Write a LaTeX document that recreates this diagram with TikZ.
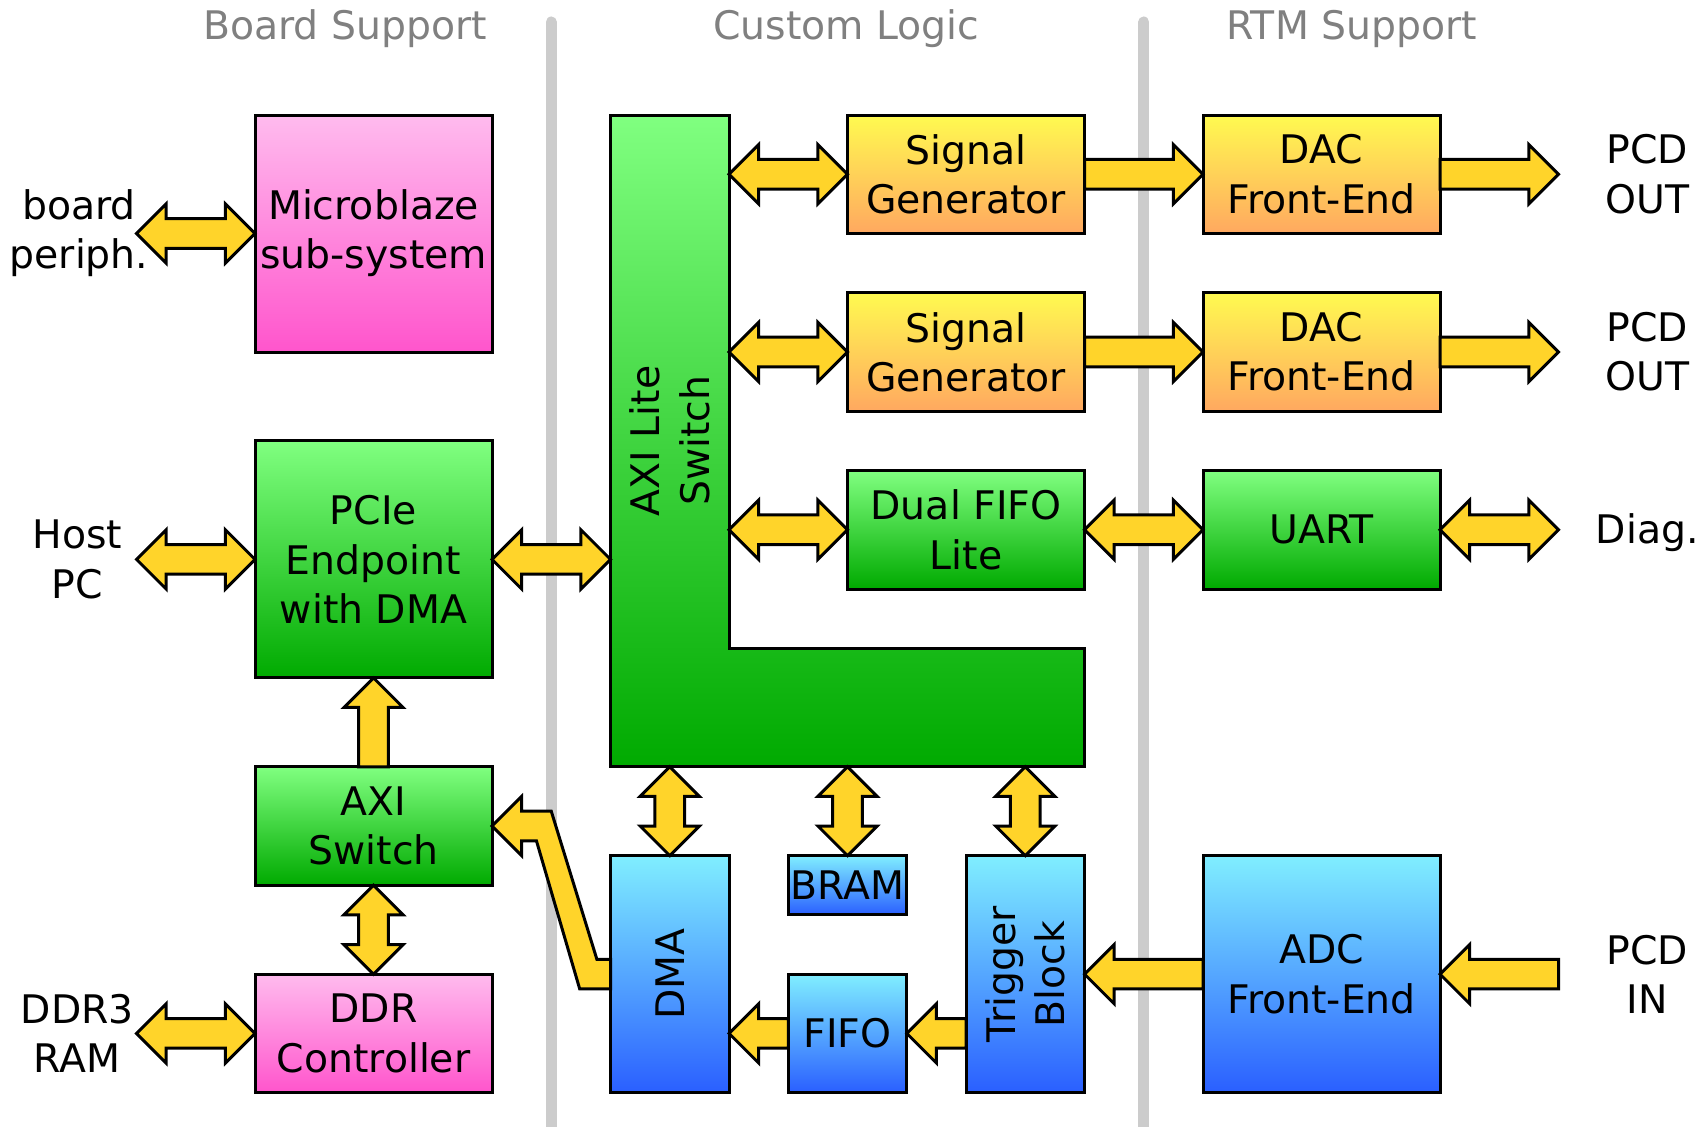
\documentclass[tikz,border=0pt]{standalone}
\usepackage{fontspec}
\setmainfont{DejaVu Sans}
\usetikzlibrary{calc}
\definecolor{arrowyellow}{HTML}{FFD42A}
\definecolor{pinktop}{HTML}{FFBBEE}
\definecolor{pinkbot}{HTML}{FF55CC}
\definecolor{greentop}{HTML}{80FF80}
\definecolor{greenbot}{HTML}{00AA00}
\definecolor{oratop}{HTML}{FFFA50}
\definecolor{orabot}{HTML}{FFA860}
\definecolor{bluetop}{HTML}{80EEFF}
\definecolor{bluebot}{HTML}{2A5FFF}
\definecolor{sepgray}{HTML}{CCCCCC}
\definecolor{titlegray}{HTML}{808080}

\newcommand\HL{8.42pt}
\newcommand\HW{8.42pt}
\newcommand\SW{4.21pt}

\newcommand\FatDouble[2]{%
  \draw[fatarrow] let \p1=(#1), \p2=(#2),
     \n1={atan2(\y2-\y1,\x2-\x1)}, \n2={veclen(\x2-\x1,\y2-\y1)} in
     [shift={(\x1,\y1)}, rotate=\n1]
     (0pt,0pt) -- (\HL,\HW) -- (\HL,\SW) -- ({\n2*1pt-\HL},\SW) -- ({\n2*1pt-\HL},\HW)
     -- ({\n2*1pt},0pt) -- ({\n2*1pt-\HL},-\HW) -- ({\n2*1pt-\HL},-\SW)
     -- (\HL,-\SW) -- (\HL,-\HW) -- cycle;}
\newcommand\FatSingle[2]{%
  \draw[fatarrow] let \p1=(#1), \p2=(#2),
     \n1={atan2(\y2-\y1,\x2-\x1)}, \n2={veclen(\x2-\x1,\y2-\y1)} in
     [shift={(\x1,\y1)}, rotate=\n1]
     (0pt,\SW) -- ({\n2*1pt-\HL},\SW) -- ({\n2*1pt-\HL},\HW)
     -- ({\n2*1pt},0pt) -- ({\n2*1pt-\HL},-\HW) -- ({\n2*1pt-\HL},-\SW)
     -- (0pt,-\SW) -- cycle;}

\tikzset{
  every node/.style={font=\fontsize{11.2}{14.0}\selectfont},
  fatarrow/.style={fill=arrowyellow, draw=black, line width=0.85pt, line join=miter},
  blk/.style={draw=black, line width=0.85pt, inner sep=0pt, outer sep=0pt, align=center},
  pinkbox/.style={blk, top color=pinktop, bottom color=pinkbot},
  greenbox/.style={blk, top color=greentop, bottom color=greenbot},
  orabox/.style={blk, top color=oratop, bottom color=orabot},
  bluebox/.style={blk, top color=bluetop, bottom color=bluebot},
  w4/.style={minimum width=2.37cm}, w2/.style={minimum width=1.185cm},
  h4/.style={minimum height=2.37cm}, h2/.style={minimum height=1.185cm},
  h1/.style={minimum height=0.5925cm},
  sidelabel/.style={align=center},
  coltitle/.style={anchor=base, text=titlegray, font=\fontsize{11.2}{13.4}\selectfont},
  separator/.style={draw=sepgray, line width=3.13pt, line cap=round}
}

\begin{document}
\begin{tikzpicture}[x=0.5925cm, y=-0.5925cm]
\useasboundingbox (-4.304,-1.941) rectangle (24.506,17.063);

% separators
\draw[separator] (5,-1.57) -- (5,17.5);
\draw[separator] (15,-1.57) -- (15,17.5);

% column titles
\node[coltitle] (t-board) at (1.52,-1.27) {Board Support};
\node[coltitle] (t-custom) at (9.98,-1.27) {Custom Logic};
\node[coltitle] (t-rtm) at (18.51,-1.27) {RTM Support};

% board support column
\node[pinkbox, w4, h4] (mb) at (2,2) {Microblaze\\sub-system};
\node[greenbox, w4, h4] (pcie) at (2,7.5) {PCIe\\Endpoint\\with DMA};
\node[greenbox, w4, h2] (axisw) at (2,12) {AXI\\Switch};
\node[pinkbox, w4, h2] (ddr) at (2,15.5) {DDR\\Controller};

% AXI Lite switch (L shape)
\shadedraw[top color=greentop, bottom color=greenbot, draw=black, line width=0.85pt]
  (6,0) -- (8,0) -- (8,9) -- (14,9) -- (14,11) -- (6,11) -- cycle;
\node[rotate=90, align=center] (axil) at (7,5.5) {AXI Lite\\Switch};
\coordinate (axil-sg1) at (8,1);
\coordinate (axil-sg2) at (8,4);
\coordinate (axil-df) at (8,7);
\coordinate (axil-pcie) at (6,7.5);
\coordinate (axil-dma) at (7,11);
\coordinate (axil-bram) at (10,11);
\coordinate (axil-trig) at (13,11);

% custom logic
\node[orabox, w4, h2] (sg1) at (12,1) {Signal\\Generator};
\node[orabox, w4, h2] (sg2) at (12,4) {Signal\\Generator};
\node[greenbox, w4, h2] (dfifo) at (12,7) {Dual FIFO\\Lite};
\node[bluebox, w2, h4] (dma) at (7,14.5) {};
\node[rotate=90] (dmatext) at (dma.center) {DMA};
\node[bluebox, w2, h1] (bram) at (10,13) {BRAM};
\node[bluebox, w2, h2] (fifo) at (10,15.5) {FIFO};
\node[bluebox, w2, h4] (trig) at (13,14.5) {};
\node[rotate=90, align=center] (trigtext) at (trig.center) {Trigger\\Block};

% RTM support
\node[orabox, w4, h2] (dac1) at (18,1) {DAC\\Front-End};
\node[orabox, w4, h2] (dac2) at (18,4) {DAC\\Front-End};
\node[greenbox, w4, h2] (uart) at (18,7) {UART};
\node[bluebox, w4, h4] (adc) at (18,14.5) {ADC\\Front-End};

% outside labels
\node[sidelabel] (l-board) at (-2.97,2) {board\\periph.};
\node[sidelabel] (l-host) at (-3,7.5) {Host\\PC};
\node[sidelabel] (l-ddr3) at (-3,15.5) {DDR3\\RAM};
\node[sidelabel] (l-out1) at (23.5,1) {PCD\\OUT};
\node[sidelabel] (l-out2) at (23.5,4) {PCD\\OUT};
\node[sidelabel] (l-diag) at (23.5,7.05) {Diag.};
\node[sidelabel] (l-in) at (23.5,14.5) {PCD\\IN};
\coordinate (bp) at (-2,2);
\coordinate (hp) at (-2,7.5);
\coordinate (dr) at (-2,15.5);
\coordinate (po1) at (22,1);
\coordinate (po2) at (22,4);
\coordinate (dg) at (22,7);
\coordinate (pi) at (22,14.5);

% connectors
\FatDouble{bp}{mb.west}
\FatDouble{hp}{pcie.west}
\FatDouble{dr}{ddr.west}
\FatDouble{pcie.east}{axil-pcie}
\FatSingle{axisw.north}{pcie.south}
\FatDouble{axisw.south}{ddr.north}
\FatDouble{axil-sg1}{sg1.west}
\FatDouble{axil-sg2}{sg2.west}
\FatDouble{axil-df}{dfifo.west}
\FatSingle{sg1.east}{dac1.west}
\FatSingle{sg2.east}{dac2.west}
\FatDouble{dfifo.east}{uart.west}
\FatSingle{dac1.east}{po1}
\FatSingle{dac2.east}{po2}
\FatDouble{uart.east}{dg}
\FatDouble{axil-dma}{dma.north}
\FatDouble{axil-bram}{bram.north}
\FatDouble{axil-trig}{trig.north}
\FatSingle{trig.west |- fifo.east}{fifo.east}
\FatSingle{fifo.west}{dma.east |- fifo.west}
\FatSingle{adc.west}{trig.east}
\FatSingle{pi}{adc.east}

% DMA -> AXI Switch (bent)
\draw[fatarrow]
  (axisw.east) -- ($(axisw.east)+(0.5,-0.5)$) -- ($(axisw.east)+(0.5,-0.25)$)
  -- ($(axisw.east)+(1.0,-0.25)$) -- ($(dma.west)+(-0.23,-0.25)$)
  -- ($(dma.west)+(0,-0.25)$) -- ($(dma.west)+(0,0.25)$)
  -- ($(dma.west)+(-0.52,0.25)$) -- ($(axisw.east)+(0.75,0.25)$)
  -- ($(axisw.east)+(0.5,0.25)$) -- ($(axisw.east)+(0.5,0.5)$) -- cycle;
\end{tikzpicture}
\end{document}
